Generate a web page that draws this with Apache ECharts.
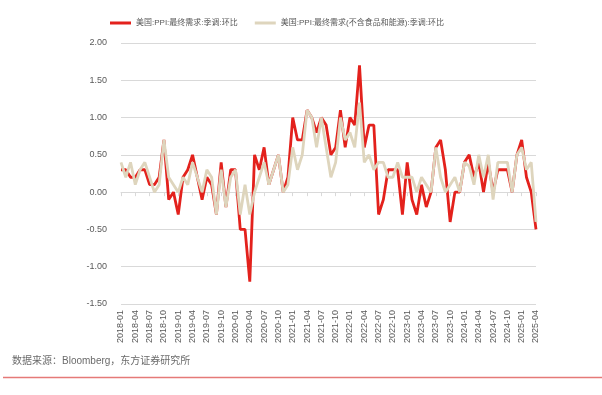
<!DOCTYPE html>
<html><head><meta charset="utf-8">
<script src="https://cdn.jsdelivr.net/npm/echarts@6/dist/echarts.min.js"></script>
<style>html,body{margin:0;padding:0;background:#fff}#c{width:602px;height:395px}</style>
</head><body><div id="c"></div>
<script>
const categories = [
"2018-01","2018-02","2018-03","2018-04","2018-05","2018-06","2018-07","2018-08","2018-09","2018-10","2018-11","2018-12",
"2019-01","2019-02","2019-03","2019-04","2019-05","2019-06","2019-07","2019-08","2019-09","2019-10","2019-11","2019-12",
"2020-01","2020-02","2020-03","2020-04","2020-05","2020-06","2020-07","2020-08","2020-09","2020-10","2020-11","2020-12",
"2021-01","2021-02","2021-03","2021-04","2021-05","2021-06","2021-07","2021-08","2021-09","2021-10","2021-11","2021-12",
"2022-01","2022-02","2022-03","2022-04","2022-05","2022-06","2022-07","2022-08","2022-09","2022-10","2022-11","2022-12",
"2023-01","2023-02","2023-03","2023-04","2023-05","2023-06","2023-07","2023-08","2023-09","2023-10","2023-11","2023-12",
"2024-01","2024-02","2024-03","2024-04","2024-05","2024-06","2024-07","2024-08","2024-09","2024-10","2024-11","2024-12",
"2025-01","2025-02","2025-03","2025-04"];
const seriesNames = ["美国:PPI:最终需求:季调:环比", "美国:PPI:最终需求(不含食品和能源):季调:环比"];
const ppiFinal = [
0.3,0.3,0.2,0.2,0.3,0.3,0.1,0.1,0.2,0.7,-0.1,0.0,
-0.3,0.2,0.3,0.5,0.2,-0.1,0.2,0.1,-0.3,0.4,-0.2,0.3,
0.3,-0.5,-0.5,-1.2,0.5,0.3,0.6,0.1,0.3,0.5,0.0,0.2,
1.0,0.7,0.7,1.1,1.0,0.8,1.0,0.9,0.5,0.6,1.1,0.6,
1.0,0.9,1.7,0.6,0.9,0.9,-0.3,-0.1,0.3,0.3,0.3,-0.3,
0.4,-0.1,-0.3,0.1,-0.2,0.0,0.6,0.7,0.3,-0.4,0.0,0.0,
0.4,0.5,0.2,0.4,0.0,0.4,0.0,0.3,0.3,0.3,0.0,0.5,
0.7,0.2,0.0,-0.5];
const ppiCore = [
0.4,0.2,0.4,0.1,0.3,0.4,0.2,0.0,0.1,0.7,0.2,0.1,
0.0,0.2,0.1,0.4,0.2,0.0,0.3,0.2,-0.3,0.3,-0.2,0.2,
0.3,-0.3,0.1,-0.3,0.0,0.2,0.4,0.1,0.3,0.5,0.0,0.1,
0.6,0.3,0.5,1.1,1.0,0.6,1.0,0.6,0.2,0.4,1.0,0.7,
0.8,0.6,1.2,0.4,0.5,0.3,0.4,0.4,0.2,0.2,0.4,0.2,
0.2,0.2,0.0,0.2,0.1,0.0,0.6,0.2,0.0,0.1,0.2,0.0,
0.4,0.35,0.1,0.5,0.2,0.5,-0.1,0.4,0.4,0.4,0.0,0.5,
0.6,0.3,0.4,-0.4];
const yTicks = { min: -1.5, max: 2.0, interval: 0.5 };
const sourceText = "数据来源：Bloomberg，东方证券研究所";

const FONT = "'Liberation Sans', 'Noto Sans CJK SC', sans-serif";
const chart = echarts.init(document.getElementById('c'), null, {renderer: 'canvas'});
chart.setOption({
  animation: false,
  backgroundColor: '#fff',
  textStyle: { fontFamily: FONT },
  legend: {
    top: 14, left: 105, itemGap: 17, itemWidth: 21, itemHeight: 3,
    icon: 'rect',
    textStyle: { fontSize: 8, color: '#595959', fontFamily: FONT },
    data: seriesNames
  },
  grid: { left: 121, right: 66, top: 43, bottom: 91 },
  xAxis: [{
    type: 'category', data: categories, boundaryGap: false, position: 'bottom',
    axisLine: { show: false, onZero: false },
    axisTick: { show: false },
    axisLabel: { interval: 2, rotate: 90, fontSize: 9, color: '#595959', margin: 6, fontFamily: FONT }
  }, {
    type: 'category', data: categories, boundaryGap: false, position: 'bottom',
    axisLine: { show: true, onZero: true, lineStyle: { color: '#d9d9d9', width: 1 } },
    axisTick: { show: true, interval: 2, length: 4, lineStyle: { color: '#d9d9d9' } },
    axisLabel: { show: false }
  }],
  yAxis: {
    type: 'value', min: yTicks.min, max: yTicks.max, interval: yTicks.interval,
    axisLine: { show: false }, axisTick: { show: false },
    splitLine: { lineStyle: { color: '#d9d9d9', width: 1 } },
    axisLabel: { fontSize: 9, color: '#595959', margin: 14, fontFamily: FONT, formatter: v => v.toFixed(2) }
  },
  series: [{
    name: seriesNames[0], type: 'line', data: ppiFinal, xAxisIndex: 0,
    showSymbol: false, symbol: 'none',
    lineStyle: { color: '#e3211c', width: 2.8 }, itemStyle: { color: '#e3211c' }
  }, {
    name: seriesNames[1], type: 'line', data: ppiCore, xAxisIndex: 0,
    showSymbol: false, symbol: 'none',
    lineStyle: { color: '#ded5bd', width: 2.8 }, itemStyle: { color: '#ded5bd' }
  }],
  graphic: [{
    type: 'text', left: 12, top: 356,
    style: { text: sourceText, fontSize: 10, fill: '#6b6b6b', fontFamily: FONT }
  }, {
    type: 'line', shape: { x1: 3, y1: 377.5, x2: 602, y2: 377.5 },
    style: { stroke: '#e57a78', lineWidth: 1.5 }
  }]
});
</script></body></html>
